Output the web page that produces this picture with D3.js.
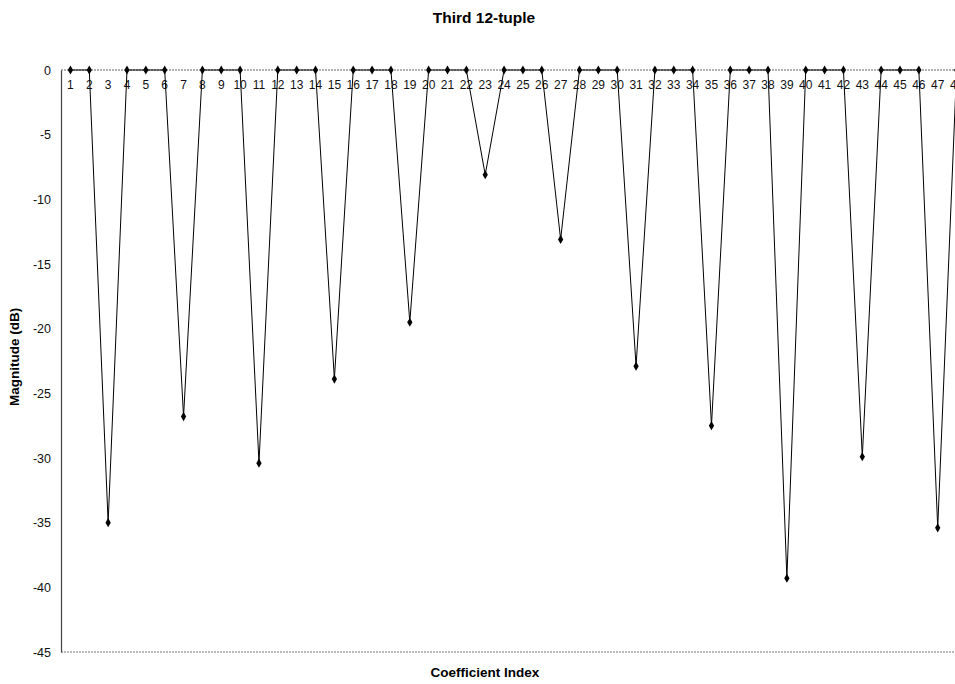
<!DOCTYPE html>
<html>
<head>
<meta charset="utf-8">
<script src="https://cdn.jsdelivr.net/npm/d3@7"></script>
<style>
  html, body { margin: 0; padding: 0; background: #fff; }
  svg { display: block; font-family: Arial, "Liberation Sans", sans-serif; }
</style>
</head>
<body>
<svg id="chart" width="955" height="684"></svg>
<script>
// Coefficient indices 1..48 and their magnitudes in dB
const indices = d3.range(1, 49);
const magnitudes = [
  0, 0, -35.0, 0, 0, 0, -26.8, 0, 0, 0, -30.4, 0,
  0, 0, -23.9, 0, 0, 0, -19.5, 0, 0, 0, -8.1, 0,
  0, 0, -13.1, 0, 0, 0, -22.9, 0, 0, 0, -27.5, 0,
  0, 0, -39.3, 0, 0, 0, -29.9, 0, 0, 0, -35.4, 0
];
const yTicks = [0, -5, -10, -15, -20, -25, -30, -35, -40, -45];

const titleText = "Third 12-tuple";
const xTitle = "Coefficient Index";
const yTitle = "Magnitude (dB)";

const svg = d3.select("#chart");
const plotLeft = 61, plotRight = 966, plotTop = 70, plotBottom = 652;

const x = d3.scaleBand().domain(indices).range([plotLeft, plotRight]).padding(0);
const y = d3.scaleLinear().domain([-45, 0]).range([plotBottom, plotTop]);
const cx = d => x(d) + x.bandwidth() / 2;

// plot frame: dotted top and bottom edges, solid left axis
svg.append("line")
  .attr("x1", plotLeft).attr("x2", plotRight).attr("y1", y(0)).attr("y2", y(0))
  .attr("stroke", "#666").attr("stroke-width", 1).attr("stroke-dasharray", "2,1");
svg.append("line")
  .attr("x1", plotLeft).attr("x2", plotRight).attr("y1", y(-45)).attr("y2", y(-45))
  .attr("stroke", "#777").attr("stroke-width", 1).attr("stroke-dasharray", "2,1");

const yAxis = d3.axisLeft(y).tickValues(yTicks).tickSize(0).tickPadding(10)
  .tickFormat(d3.format("d"));
const gy = svg.append("g").attr("transform", `translate(${plotLeft},0)`).call(yAxis);
gy.select(".domain").attr("stroke", "#444").attr("stroke-width", 1.2);
gy.selectAll("text").attr("font-size", 12.5).attr("fill", "#111")
  .text(d => String(d));

// category labels sit just under the 0 line
const xAxis = d3.axisBottom(x).tickSize(0).tickPadding(10);
const gx = svg.append("g").attr("transform", `translate(0,${y(0)})`).call(xAxis);
gx.select(".domain").remove();
gx.selectAll("text").attr("font-size", 12).attr("fill", "#111");

// series line and diamond markers
const pts = indices.map((d, i) => ({ k: d, v: magnitudes[i] }));
svg.append("path")
  .datum(pts)
  .attr("fill", "none")
  .attr("stroke", "#000")
  .attr("stroke-width", 1)
  .attr("d", d3.line().x(d => cx(d.k)).y(d => y(d.v)));

svg.append("g").selectAll("path")
  .data(pts)
  .join("path")
  .attr("transform", d => `translate(${cx(d.k)},${y(d.v)})`)
  .attr("d", d3.symbol().type(d3.symbolDiamond).size(24))
  .attr("fill", "#000");

// titles
svg.append("text")
  .attr("x", 484).attr("y", 23)
  .attr("text-anchor", "middle")
  .attr("font-size", 15.5).attr("font-weight", "bold")
  .text(titleText);

svg.append("text")
  .attr("x", 485).attr("y", 677)
  .attr("text-anchor", "middle")
  .attr("font-size", 13.5).attr("font-weight", "bold")
  .text(xTitle);

svg.append("text")
  .attr("transform", "translate(19,357) rotate(-90)")
  .attr("text-anchor", "middle")
  .attr("font-size", 13.5).attr("font-weight", "bold")
  .text(yTitle);
</script>
</body>
</html>
